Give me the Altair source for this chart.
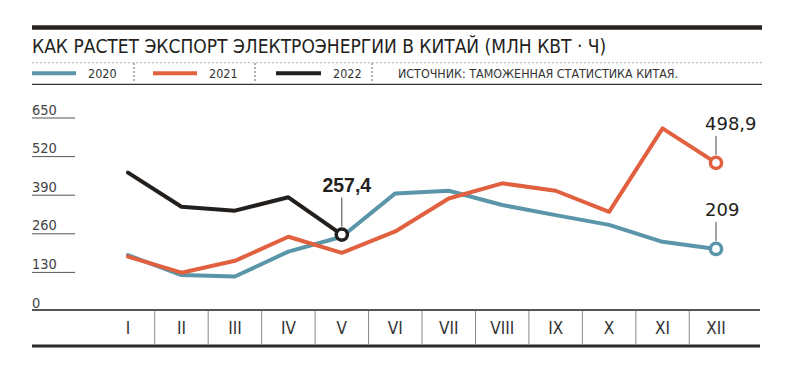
import altair as alt
import pandas as pd

# ---- data ----
months = ["I", "II", "III", "IV", "V", "VI", "VII", "VIII", "IX", "X", "XI", "XII"]
v2020 = [188, 121, 116, 200, 250, 396, 405, 357, 323, 290, 233, 209]
v2021 = [183, 129, 169, 250, 196, 268, 379, 430, 405, 334, 615, 498.9]
v2022 = [466, 351, 338, 383, 257.4]
series_names = ["2020", "2021", "2022"]
series_colors = ["#5a95a9", "#e0603f", "#231f1c"]
y_ticks = [0, 130, 260, 390, 520, 650]
annot_series = ["2022", "2021", "2020"]
annot_month = [5, 12, 12]
annot_value = [257.4, 498.9, 209]
annot_text = ["257,4", "498,9", "209"]

title_text = "КАК РАСТЕТ ЭКСПОРТ ЭЛЕКТРОЭНЕРГИИ В КИТАЙ (МЛН КВТ · Ч)"
source_text = "ИСТОЧНИК: ТАМОЖЕННАЯ СТАТИСТИКА КИТАЯ."

FONT = "DejaVu Sans Condensed, DejaVu Sans, sans-serif"
LABFONT = "DejaVu Sans, sans-serif"
BOLDFONT = "Liberation Sans, Arial, sans-serif"

# ---- tables ----
rows = []
for name, vals in zip(series_names, [v2020, v2021, v2022]):
    for i, v in enumerate(vals):
        rows.append({"series": name, "m": i + 1, "value": v})
lines_df = pd.DataFrame(rows)
ann_df = pd.DataFrame({"series": annot_series, "m": annot_month,
                       "value": annot_value, "text": annot_text})
tick_df = pd.DataFrame({"value": y_ticks, "label": [str(t) for t in y_ticks]})
month_df = pd.DataFrame({"m": list(range(1, 13)), "label": months})
sep_df = pd.DataFrame({"m": [k + 0.5 for k in range(1, 12)]})
one = pd.DataFrame({"a": [0]})

xs = alt.Scale(domain=[1, 12], range=[120, 708])
ys = alt.Scale(domain=[0, 650], range=[303, 110])
cs = alt.Scale(domain=series_names, range=series_colors)

X = alt.X("m:Q", scale=xs, axis=None)
Y = alt.Y("value:Q", scale=ys, axis=None)

layers = []


def hrule(y, x1, x2, color, width, dash=None):
    kw = dict(color=color, strokeWidth=width)
    if dash:
        kw["strokeDash"] = dash
    return alt.Chart(one).mark_rule(**kw).encode(
        x=alt.value(x1), x2=alt.value(x2), y=alt.value(y))


def vrule(x, y1, y2, color, width, dash=None):
    kw = dict(color=color, strokeWidth=width)
    if dash:
        kw["strokeDash"] = dash
    return alt.Chart(one).mark_rule(**kw).encode(
        x=alt.value(x), y=alt.value(y1), y2=alt.value(y2))


def label(text, x, y, size, color="#2a2a2a", font=FONT, weight="normal"):
    return alt.Chart(one).mark_text(
        text=text, align="left", baseline="alphabetic", font=font,
        fontSize=size, color=color, fontWeight=weight).encode(
        x=alt.value(x), y=alt.value(y))


# header
layers += [
    hrule(19.5, 24, 754, "#2a2420", 4.5),
    label(title_text, 24, 45, 19, "#231f1c"),
    hrule(54.7, 24, 754, "#b0b0b0", 1, [2, 2]),
    hrule(76.3, 24, 754, "#333333", 1.3),
    vrule(126, 55, 75, "#666666", 1, [2, 2]),
    vrule(247, 55, 75, "#666666", 1, [2, 2]),
    vrule(364, 55, 75, "#666666", 1, [2, 2]),
    hrule(65.3, 24, 68, series_colors[0], 4),
    hrule(65.3, 145, 189, series_colors[1], 4),
    hrule(65.3, 268, 313, series_colors[2], 4),
    label("2020", 80, 70, 12.5, "#333333"),
    label("2021", 201, 70, 12.5, "#333333"),
    label("2022", 325, 70, 12.5, "#333333"),
    label(source_text, 390, 69.5, 12.4, "#333333"),
]

# axis frame
layers += [
    hrule(302, 24, 752, "#555555", 2),
    hrule(338, 24, 752, "#2a2a2a", 3),
]
layers.append(alt.Chart(sep_df).mark_rule(color="#888888", strokeWidth=1).encode(
    x=X, y=alt.value(303), y2=alt.value(337)))
layers.append(alt.Chart(month_df).mark_text(
    font=FONT, fontSize=17, color="#333333", baseline="middle").encode(
    x=X, y=alt.value(321), text="label:N"))

# y ticks
layers.append(alt.Chart(tick_df[tick_df.value > 0]).mark_rule(
    color="#555555", strokeWidth=1).encode(
    y=Y, x=alt.value(24), x2=alt.value(67)))
layers.append(alt.Chart(tick_df).mark_text(
    font=FONT, fontSize=14.5, color="#444444", align="left",
    baseline="alphabetic", dy=-3.5).encode(
    y=Y, x=alt.value(24), text="label:N"))

# series
layers.append(alt.Chart(lines_df).mark_line(
    strokeWidth=4, strokeJoin="round", strokeCap="round").encode(
    x=X, y=Y, color=alt.Color("series:N", scale=cs, legend=None),
    order="m:Q", detail="series:N"))

# annotations
ann_v = ann_df[ann_df.m == 5]
ann_xii = ann_df[ann_df.m == 12]
layers.append(alt.Chart(ann_v).mark_rule(
    color="#444444", strokeWidth=1, yOffset=-8, y2Offset=-37).encode(
    x=X, y=Y, y2=alt.Y2("value:Q")))
layers.append(alt.Chart(ann_xii).mark_rule(
    color="#444444", strokeWidth=1, yOffset=-8, y2Offset=-27).encode(
    x=X, y=Y, y2=alt.Y2("value:Q")))
layers.append(alt.Chart(ann_df).mark_point(
    shape="circle", size=125, fill="white", fillOpacity=1, strokeWidth=3.5,
    opacity=1).encode(
    x=X, y=Y, stroke=alt.Color("series:N", scale=cs, legend=None)))
layers.append(alt.Chart(ann_v).mark_text(
    font=BOLDFONT, fontSize=19.5, fontWeight="bold", color="#231f1c",
    align="center", baseline="alphabetic", dx=5, dy=-43).encode(
    x=X, y=Y, text="text:N"))
layers.append(alt.Chart(ann_xii).mark_text(
    font=LABFONT, fontSize=18, color="#231f1c",
    align="left", baseline="alphabetic", dx=-11, dy=-33).encode(
    x=X, y=Y, text="text:N"))

chart = alt.layer(*layers).properties(
    width=784, height=358,
    autosize=alt.AutoSizeParams(type="none"),
    padding=0,
    background="white",
).configure_view(stroke=None)

chart.save("out.html", embed_options={"renderer": "svg", "actions": False})
